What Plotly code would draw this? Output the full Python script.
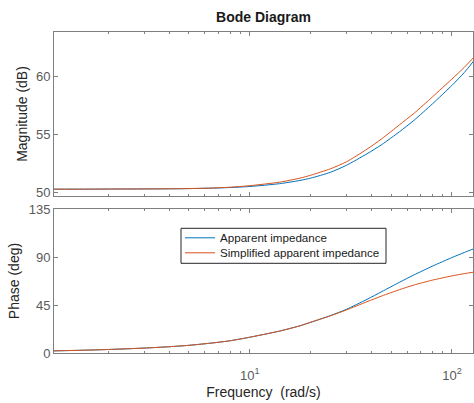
import plotly.graph_objects as go

# Frequencies (rad/s)
freq = [1.07, 1.5, 2, 3, 4, 5, 6.6, 8, 10, 14, 17.7, 20, 25, 30, 38, 45, 55, 65, 80, 100, 115, 128]

# Magnitude (dB)
mag_apparent = [50.25, 50.25, 50.26, 50.27, 50.28, 50.30, 50.34, 50.39, 50.48, 50.72, 51.0, 51.2,
                51.7, 52.3, 53.3, 54.1, 55.2, 56.2, 57.6, 59.2, 60.3, 61.3]
mag_simplified = [50.25, 50.25, 50.26, 50.27, 50.28, 50.30, 50.35, 50.42, 50.55, 50.85, 51.2, 51.45,
                  52.0, 52.6, 53.7, 54.6, 55.8, 56.8, 58.2, 59.75, 60.75, 61.6]

# Phase (deg)
ph_apparent = [2.0, 2.6, 3.3, 4.6, 5.9, 7.2, 9.5, 11.5, 14.8, 20.5, 25.5, 28.8,
               35.0, 40.9, 50.3, 57.6, 66.3, 73.3, 81.4, 89.5, 94.2, 97.7]
ph_simplified = [2.0, 2.6, 3.3, 4.6, 5.9, 7.2, 9.5, 11.5, 14.8, 20.5, 25.5, 28.8,
                 34.8, 40.3, 48.1, 53.5, 59.4, 63.8, 68.3, 72.3, 74.4, 75.8]

names = ["Apparent impedance", "Simplified apparent impedance"]
colors = ["#0072BD", "#D95319"]

mag_ticks = [50, 55, 60]
ph_ticks = [0, 45, 90, 135]
x_tickvals = [10, 100]
x_ticktext = ["10<sup>1</sup>", "10<sup>2</sup>"]

FONT = "Liberation Sans, Arial, sans-serif"
AXC = "#7f7f7f"
TICKC = "#5a5a5a"

fig = go.Figure()
for mag, ph, nm, c in [(mag_apparent, ph_apparent, names[0], colors[0]),
                       (mag_simplified, ph_simplified, names[1], colors[1])]:
    fig.add_trace(go.Scatter(x=freq, y=mag, mode="lines", name=nm, showlegend=False,
                             line=dict(color=c, width=1, shape="spline", smoothing=0.6),
                             xaxis="x", yaxis="y"))
    fig.add_trace(go.Scatter(x=freq, y=ph, mode="lines", name=nm, showlegend=False,
                             line=dict(color=c, width=1, shape="spline", smoothing=0.6),
                             xaxis="x2", yaxis="y2"))

W, HT = 474, 403
L, R, T, B = 54, 1, 32, 50
H = HT - T - B
PW = W - L - R
xr = [0.0312, 2.104]

common_x = dict(type="log", range=xr, showline=True, linecolor=AXC, linewidth=1, mirror="ticks",
                ticks="inside", ticklen=4, tickcolor=AXC, tickvals=x_tickvals,
                showgrid=False, zeroline=False,
                minor=dict(ticks="inside", ticklen=2, tickcolor=AXC, showgrid=False, dtick="D1"))
common_y = dict(showline=True, linecolor=AXC, linewidth=1, mirror="ticks", ticks="inside",
                ticklen=4, tickcolor=AXC, showgrid=False, zeroline=False,
                tickfont=dict(family=FONT, size=13, color=TICKC))

# Legend drawn in the lower axes (paper coords derived from pixel layout)
def px(xp):
    return (xp - L) / PW

def py(yp):
    return (HT - B - yp) / H

shapes = [dict(type="rect", xref="paper", yref="paper", x0=px(181), x1=px(386),
               y0=py(263.3), y1=py(228.3), line=dict(color="#262626", width=1),
               fillcolor="white", layer="above")]
annotations = []
for i, (nm, c) in enumerate(zip(names, colors)):
    yl = 237.8 + 15 * i
    shapes.append(dict(type="line", xref="paper", yref="paper", x0=px(185), x1=px(215),
                       y0=py(yl), y1=py(yl), line=dict(color=c, width=1), layer="above"))
    annotations.append(dict(text=nm, xref="paper", yref="paper", x=px(218), y=py(yl),
                            xanchor="left", yanchor="middle", showarrow=False,
                            font=dict(family=FONT, size=11.6, color="#1a1a1a")))

fig.update_layout(
    width=W, height=HT,
    margin=dict(l=L, r=R, t=T, b=B),
    paper_bgcolor="white", plot_bgcolor="white",
    font=dict(family=FONT, color="#262626"),
    showlegend=False,
    title=dict(text="<b>Bode Diagram</b>", x=(L + (W - R)) / 2 / W, xanchor="center",
               y=1 - 17 / HT, yanchor="middle", font=dict(size=14, color="#1a1a1a")),
    xaxis=dict(common_x, domain=[0, 1], anchor="y", showticklabels=False),
    yaxis=dict(common_y, domain=[(HT - B - 196) / H, 1], range=[49.66, 63.8], tickvals=mag_ticks,
               title=dict(text="Magnitude (dB)", font=dict(size=14, color="#262626"), standoff=5)),
    xaxis2=dict(common_x, domain=[0, 1], anchor="y2", ticktext=x_ticktext,
                tickfont=dict(family=FONT, size=13, color=TICKC), ticklabelstandoff=10,
                title=dict(text="Frequency  (rad/s)", font=dict(size=14, color="#262626"), standoff=5)),
    yaxis2=dict(common_y, domain=[0, 144 / H], range=[0, 135], tickvals=ph_ticks,
                title=dict(text="Phase (deg)", font=dict(size=14, color="#262626"), standoff=5)),
    shapes=shapes,
    annotations=annotations,
)

fig.write_html("out.html")
